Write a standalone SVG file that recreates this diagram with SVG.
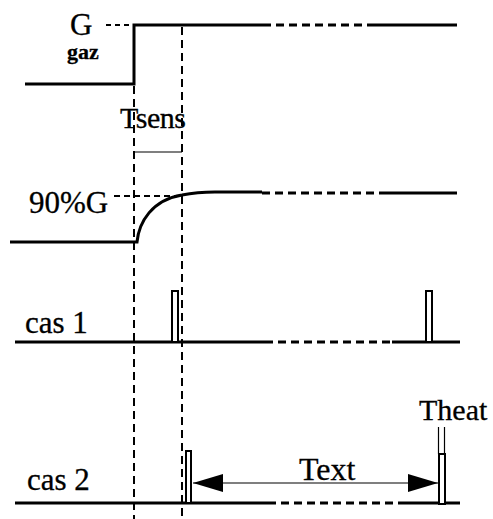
<svg xmlns="http://www.w3.org/2000/svg" width="493" height="519" viewBox="0 0 493 519">
<style>
.sig{fill:none;stroke:#000;stroke-width:3}
.dsig{fill:none;stroke:#000;stroke-width:3;stroke-dasharray:8 5}
.vd{fill:none;stroke:#000;stroke-width:2;stroke-dasharray:8 5}
.pulse{fill:#fff;stroke:#000;stroke-width:2}
.thin{fill:none;stroke:#000;stroke-width:1.2}
text{font-family:'Liberation Serif','Times New Roman',serif;fill:#000;stroke:#000;stroke-width:0.3}
</style>
<defs>
<marker id="ah" viewBox="0 0 30 18" refX="30" refY="9" markerWidth="30" markerHeight="18" markerUnits="userSpaceOnUse" orient="auto-start-reverse">
<path d="M0,0 L30,9 L0,18 Z" fill="#000"/>
</marker>
</defs>
<g id="guides">
<line class="vd" x1="134" y1="86" x2="134" y2="519"/>
<line class="vd" x1="182" y1="27" x2="182" y2="519"/>
<line class="vd" x1="106" y1="25" x2="134" y2="25" style="stroke-dasharray:5 4"/>
<line class="vd" x1="114" y1="196" x2="182" y2="196" style="stroke-dasharray:6 4"/>
<line class="thin" x1="134" y1="152" x2="182" y2="152"/>
</g>
<g id="gaz">
<path class="sig" d="M25,84 H134 V25 H263"/>
<line class="dsig" x1="263" y1="25" x2="368" y2="25"/>
<line class="sig" x1="368" y1="25" x2="457" y2="25"/>
<text x="70" y="35" font-size="31">G</text>
<text x="67" y="59" font-size="22" font-weight="bold">gaz</text>
<text x="120" y="128" font-size="30" letter-spacing="-0.5">Tsens</text>
</g>
<g id="sensor">
<path class="sig" d="M10,242 H137 C139,222 152,200 182,195 C192,193 200,192 215,192 H262"/>
<line class="dsig" x1="262" y1="193" x2="383" y2="193"/>
<line class="sig" x1="383" y1="193" x2="457" y2="193"/>
<text x="29" y="213" font-size="31">90%G</text>
</g>
<g id="cas1">
<line class="sig" x1="15" y1="342" x2="265" y2="342"/>
<line class="dsig" x1="265" y1="342" x2="392" y2="342"/>
<line class="sig" x1="392" y1="342" x2="460" y2="342"/>
<rect class="pulse" x="172" y="291" width="6" height="51"/>
<rect class="pulse" x="426" y="291" width="6" height="51"/>
<text x="25" y="333" font-size="31">cas 1</text>
</g>
<g id="cas2">
<line class="sig" x1="15" y1="503" x2="268" y2="503"/>
<line class="dsig" x1="268" y1="503" x2="400" y2="503"/>
<line class="sig" x1="400" y1="503" x2="460" y2="503"/>
<rect class="pulse" x="186" y="451" width="5" height="52"/>
<rect class="pulse" x="439" y="454" width="6" height="50"/>
<line class="thin" x1="438.5" y1="427" x2="438.5" y2="454"/>
<line class="thin" x1="444.5" y1="427" x2="444.5" y2="454"/>
<text x="27" y="490" font-size="31">cas 2</text>
<text x="419" y="420" font-size="30">Theat</text>
</g>
<g id="connectors">
<line class="thin" x1="193" y1="483" x2="438" y2="483" marker-start="url(#ah)" marker-end="url(#ah)"/>
<text x="299" y="480" font-size="32">Text</text>
</g>
</svg>
